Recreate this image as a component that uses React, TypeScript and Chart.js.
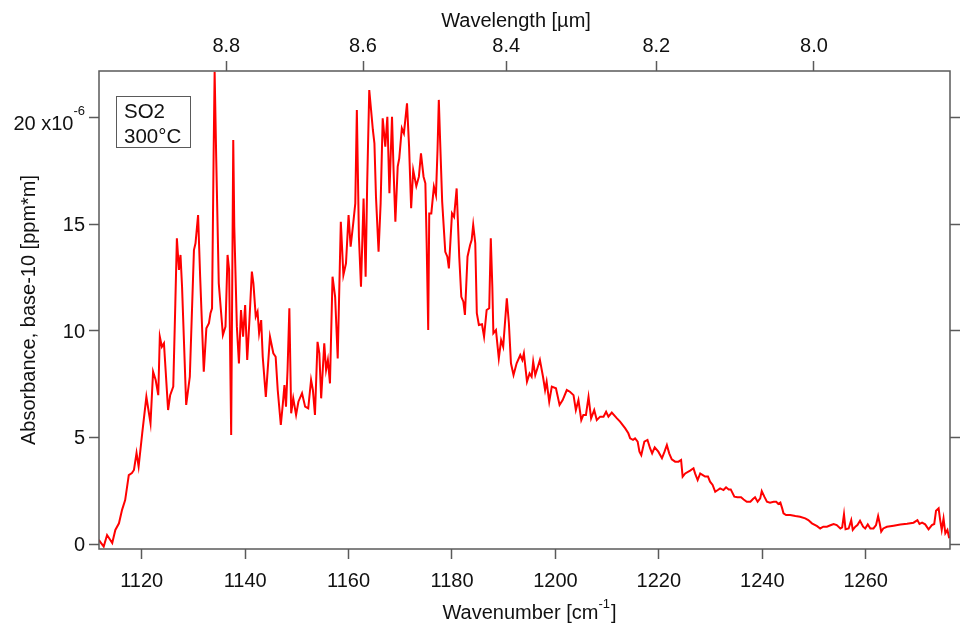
import React, { useEffect, useRef } from 'react';
import { Chart, registerables } from 'chart.js';

Chart.register(...registerables);

const FONT = '"Liberation Sans", Arial, Helvetica, sans-serif';

// Wavenumber [cm^-1]
const wavenumber: number[] = [
  1111.7, 1112.65, 1113.3, 1114.3, 1114.9, 1115.6, 1116.2, 1116.8, 1117.5, 1118.1,
  1118.5, 1119.0, 1119.4, 1120.1, 1120.9, 1121.7, 1122.2, 1122.7, 1123.2, 1123.5,
  1123.9, 1124.3, 1125.1, 1125.5, 1126.1, 1126.5, 1126.8, 1127.2, 1127.5, 1127.8,
  1128.6, 1129.3, 1130.1, 1130.4, 1130.9, 1131.3, 1132.0, 1132.5, 1133.0, 1133.3,
  1133.6, 1133.9, 1134.1, 1134.4, 1134.9, 1135.7, 1136.2, 1136.6, 1136.9, 1137.3,
  1137.7, 1137.9, 1138.4, 1138.8, 1139.2, 1139.6, 1140.0, 1140.4, 1140.8, 1141.3,
  1141.6, 1142.05, 1142.4, 1142.7, 1143.1, 1143.4, 1144.0, 1144.8, 1145.45, 1145.9,
  1146.3, 1146.9, 1147.3, 1147.6, 1147.9, 1148.2, 1148.55, 1148.9, 1149.3, 1149.85,
  1150.3, 1151.0, 1151.6, 1152.2, 1152.75, 1153.1, 1153.5, 1154.0, 1154.35, 1154.7,
  1155.3, 1155.65, 1156.0, 1156.4, 1156.9, 1157.4, 1157.9, 1158.5, 1159.0, 1159.5,
  1160.0, 1160.4, 1160.9, 1161.3, 1161.6, 1162.0, 1162.4, 1162.9, 1163.3, 1163.6,
  1164.0, 1164.35, 1164.7, 1165.0, 1165.3, 1165.8, 1166.2, 1166.6, 1167.1, 1167.5,
  1167.9, 1168.4, 1168.7, 1169.05, 1169.5, 1169.8, 1170.3, 1170.7, 1171.3, 1171.7,
  1172.1, 1172.5, 1173.1, 1173.6, 1174.0, 1174.5, 1174.85, 1175.1, 1175.4, 1175.6,
  1176.0, 1176.5, 1176.9, 1177.2, 1177.45, 1177.7, 1178.1, 1178.7, 1179.1, 1179.4,
  1180.0, 1180.4, 1180.9, 1181.4, 1181.8, 1182.2, 1182.5, 1183.0, 1183.5, 1183.8,
  1184.1, 1184.5, 1184.8, 1185.2, 1185.8, 1186.2, 1186.7, 1187.2, 1187.5, 1187.8,
  1188.0, 1188.5, 1189.05, 1189.5, 1189.9, 1190.6, 1191.0, 1191.4, 1191.9, 1192.5,
  1193.2, 1193.6, 1193.9, 1194.5, 1195.0, 1195.4, 1195.7, 1196.1, 1196.5, 1197.0,
  1197.6, 1198.0, 1198.3, 1198.8, 1199.3, 1200.1, 1200.8, 1201.4, 1202.2, 1202.8,
  1203.5, 1203.95, 1204.45, 1205.0, 1205.4, 1205.9, 1206.4, 1206.9, 1207.5, 1208.0,
  1208.65, 1209.3, 1209.8, 1210.25, 1210.9, 1211.9, 1212.5, 1213.5, 1214.1, 1214.45,
  1215.0, 1215.4, 1215.9, 1216.25, 1216.6, 1217.2, 1217.8, 1218.3, 1218.7, 1219.2,
  1219.9, 1220.6, 1221.1, 1221.55, 1222.0, 1222.5, 1223.15, 1223.8, 1224.3, 1224.6,
  1225.1, 1226.05, 1226.7, 1227.0, 1227.5, 1228.0, 1228.5, 1228.95, 1229.5, 1229.9,
  1230.4, 1230.9, 1231.4, 1231.85, 1232.5, 1233.0, 1233.5, 1233.9, 1234.6, 1235.2,
  1235.9, 1236.4, 1237.0, 1237.7, 1238.2, 1238.6, 1239.1, 1239.6, 1239.9, 1240.4,
  1240.9, 1241.5, 1242.2, 1242.7, 1243.1, 1243.5, 1243.85, 1244.1, 1244.6, 1245.4,
  1246.4, 1247.3, 1248.3, 1248.9, 1249.6, 1250.6, 1251.2, 1251.8, 1252.5, 1253.3,
  1253.8, 1254.4, 1255.1, 1255.45, 1255.8, 1256.1, 1256.7, 1257.2, 1257.5, 1258.0,
  1258.4, 1258.9, 1259.5, 1259.9, 1260.4, 1260.9, 1261.5, 1262.0, 1262.4, 1262.7,
  1263.0, 1263.4, 1264.1, 1265.4, 1266.7, 1268.0, 1269.25, 1270.0, 1270.4, 1270.9,
  1271.5, 1272.15, 1272.8, 1273.25, 1273.6, 1274.1, 1274.4, 1274.7, 1275.05, 1275.4,
  1275.8, 1276.15,
];

// Absorbance, base-10 [ppm*m], in units of 1e-6
const absorbance: number[] = [
  0.19, -0.12, 0.42, 0.05, 0.66, 0.97, 1.6, 2.06, 3.23, 3.33,
  3.47, 4.27, 3.63, 5.2, 6.9, 5.66, 8.08, 7.69, 6.98, 9.72,
  9.25, 9.41, 6.28, 6.98, 7.38, 11.28, 14.33, 12.85, 13.55, 12.06,
  6.52, 7.84, 13.78, 14.1, 15.42, 12.53, 8.08, 10.11, 10.35, 10.82,
  11.05, 18.16, 22.14, 18.16, 12.22, 9.8, 10.19, 13.55, 12.85, 5.11,
  18.94, 14.88, 10.19, 8.47, 10.97, 9.72, 11.2, 8.63, 10.35, 12.77,
  12.22, 10.66, 10.89, 9.88, 10.5, 8.78, 6.9, 9.72, 8.94, 8.78,
  7.22, 5.58, 6.6, 7.45, 6.44, 8.16, 11.05, 6.13, 6.83, 6.05,
  6.67, 7.07, 6.44, 6.36, 7.69, 7.22, 6.05, 9.48, 8.94, 6.83,
  9.41, 8.16, 8.63, 7.53, 12.53, 11.59, 8.7, 15.11, 12.61, 13.16,
  15.42, 13.94, 15.03, 15.97, 20.35, 14.41, 12.06, 16.2, 12.53, 16.91,
  21.28, 20.35, 19.41, 18.78, 16.28, 13.7, 15.97, 19.96, 18.63, 20.03,
  16.44, 20.03, 17.53, 15.11, 17.69, 18.08, 19.49, 19.25, 20.66, 18.63,
  15.74, 17.53, 16.78, 17.22, 18.31, 17.22, 16.91, 14.1, 10.03, 15.5,
  15.5, 16.75, 16.36, 18.47, 20.82, 18.94, 16.05, 13.7, 13.47, 12.92,
  15.5, 15.34, 16.67, 13.47, 11.59, 11.36, 10.74, 13.47, 14.02, 14.25,
  14.96, 14.1, 10.82, 10.27, 10.3, 9.72, 10.97, 11.05, 14.33, 12.06,
  9.88, 10.03, 8.7, 9.56, 9.25, 11.52, 10.35, 8.47, 7.92, 8.47,
  8.86, 8.63, 8.94, 7.61, 8.0, 7.84, 8.55, 7.92, 8.23, 8.63,
  7.84, 7.22, 7.61, 6.67, 7.38, 7.3, 6.52, 6.75, 7.22, 7.14,
  6.98, 6.28, 6.75, 5.81, 6.05, 6.05, 6.9, 5.89, 6.28, 5.81,
  5.97, 5.97, 6.2, 5.97, 6.16, 5.89, 5.74, 5.42, 5.19, 4.95,
  4.88, 4.95, 4.8, 4.33, 4.17, 4.8, 4.88, 4.49, 4.25, 4.53,
  4.33, 4.02, 4.33, 4.64, 4.25, 3.97, 3.86, 3.86, 3.94, 3.16,
  3.31, 3.44, 3.55, 3.31, 3.0, 3.31, 3.23, 3.16, 3.16, 2.92,
  2.77, 2.45, 2.53, 2.61, 2.53, 2.66, 2.56, 2.56, 2.22, 2.19,
  2.19, 2.09, 1.98, 1.98, 2.11, 2.19, 1.98, 2.14, 2.48, 2.22,
  1.98, 1.94, 1.98, 1.98, 1.88, 1.94, 1.67, 1.44, 1.36, 1.36,
  1.31, 1.28, 1.2, 1.12, 0.97, 0.84, 0.73, 0.81, 0.81, 0.89,
  0.94, 0.89, 0.73, 0.78, 1.39, 0.69, 0.73, 1.12, 0.66, 0.81,
  0.89, 1.09, 0.81, 0.73, 0.92, 0.73, 0.73, 0.89, 1.31, 0.97,
  0.58, 0.73, 0.81, 0.86, 0.91, 0.95, 1.0, 1.12, 0.94, 1.0,
  0.92, 0.69, 0.89, 0.94, 1.56, 1.67, 1.12, 0.66, 1.2, 0.5,
  0.66, 0.27,
];

const wavenumberTicks: number[] = [1120, 1140, 1160, 1180, 1200, 1220, 1240, 1260];
const wavelengthTicks: number[] = [8.8, 8.6, 8.4, 8.2, 8.0];
const absorbanceTicks: number[] = [0, 5, 10, 15, 20];

const X_MIN = 1111.74;
const X_MAX = 1276.3;
const Y_MIN = -0.234;
const Y_MAX = 22.175;

const AXIS_COLOR = '#5a5a5a';
const TEXT_COLOR = '#111111';

const gridOpts = {
  display: true,
  drawOnChartArea: false,
  drawTicks: true,
  tickLength: 10,
  tickColor: AXIS_COLOR,
  tickWidth: 1.5,
};

const overlay = {
  id: 'overlay',
  afterDraw(chart: any) {
    const ctx: CanvasRenderingContext2D = chart.ctx;
    const { left, right, top, bottom } = chart.chartArea;
    const sx = chart.scales.x;
    const sy = chart.scales.y;
    ctx.save();

    // frame
    ctx.strokeStyle = AXIS_COLOR;
    ctx.lineWidth = 1.5;
    ctx.strokeRect(left, top, right - left, bottom - top);

    ctx.fillStyle = TEXT_COLOR;
    const big = `20px ${FONT}`;
    const small = `13px ${FONT}`;

    // bottom tick labels
    ctx.font = big;
    ctx.textAlign = 'center';
    ctx.textBaseline = 'alphabetic';
    wavenumberTicks.forEach((v) => {
      ctx.fillText(String(v), sx.getPixelForValue(v), 587);
    });

    // top tick labels (wavelength in µm)
    wavelengthTicks.forEach((l) => {
      ctx.fillText(l.toFixed(1), sx.getPixelForValue(10000 / l), 52);
    });

    // left tick labels
    const labelRight = 85;
    absorbanceTicks.forEach((v) => {
      const py = sy.getPixelForValue(v);
      if (v === 20) {
        ctx.font = small;
        const supW = ctx.measureText('-6').width;
        ctx.textAlign = 'left';
        ctx.fillText('-6', labelRight - supW, py - 2);
        ctx.font = big;
        ctx.textAlign = 'right';
        ctx.fillText('20 x10', labelRight - supW, py + 12.5);
      } else {
        ctx.font = big;
        ctx.textAlign = 'right';
        ctx.fillText(String(v), labelRight, py + 7);
      }
    });

    // bottom title with superscript
    ctx.font = big;
    const t1 = 'Wavenumber [cm';
    const t3 = ']';
    const w1 = ctx.measureText(t1).width;
    const w3 = ctx.measureText(t3).width;
    ctx.font = small;
    const t2 = '-1';
    const w2 = ctx.measureText(t2).width;
    const total = w1 + w2 + 1 + w3;
    let x0 = 529.5 - total / 2;
    ctx.textAlign = 'left';
    ctx.font = big;
    ctx.fillText(t1, x0, 619);
    ctx.font = small;
    ctx.fillText(t2, x0 + w1, 608);
    ctx.font = big;
    ctx.fillText(t3, x0 + w1 + w2 + 1, 619);

    // top title
    ctx.textAlign = 'center';
    ctx.fillText('Wavelength [µm]', 516, 27);

    // left title (rotated)
    ctx.save();
    ctx.translate(35, (top + bottom) / 2);
    ctx.rotate(-Math.PI / 2);
    ctx.textAlign = 'center';
    ctx.fillText('Absorbance, base-10 [ppm*m]', 0, 0);
    ctx.restore();

    // annotation box
    ctx.strokeStyle = AXIS_COLOR;
    ctx.lineWidth = 1;
    ctx.strokeRect(116.5, 96.5, 74, 51);
    ctx.font = `20.5px ${FONT}`;
    ctx.textAlign = 'left';
    ctx.fillText('SO2', 124, 118);
    ctx.fillText('300°C', 124, 143);

    ctx.restore();
  },
};

export default function App() {
  const ref = useRef<HTMLCanvasElement>(null);

  useEffect(() => {
    if (!ref.current) return;
    const points = wavenumber.map((x, i) => ({ x, y: absorbance[i] }));
    const chart = new Chart(ref.current, {
      type: 'line',
      data: {
        datasets: [
          {
            data: points,
            borderColor: '#ff0000',
            borderWidth: 2,
            pointRadius: 0,
            tension: 0,
            fill: false,
          },
        ],
      },
      options: {
        animation: false,
        responsive: true,
        maintainAspectRatio: false,
        events: [],
        layout: { padding: 0 },
        plugins: {
          legend: { display: false },
          tooltip: { enabled: false },
          title: { display: false },
        },
        scales: {
          x: {
            type: 'linear',
            position: 'bottom',
            min: X_MIN,
            max: X_MAX,
            afterBuildTicks: (s: any) => {
              s.ticks = wavenumberTicks.map((v) => ({ value: v }));
            },
            afterFit: (s: any) => {
              s.height = 78;
            },
            ticks: { display: false },
            grid: gridOpts,
            border: { display: false },
          },
          x2: {
            type: 'linear',
            position: 'top',
            min: X_MIN,
            max: X_MAX,
            afterBuildTicks: (s: any) => {
              s.ticks = wavelengthTicks.map((l) => ({ value: 10000 / l }));
            },
            afterFit: (s: any) => {
              s.height = 71;
            },
            ticks: { display: false },
            grid: gridOpts,
            border: { display: false },
          },
          y: {
            type: 'linear',
            position: 'left',
            min: Y_MIN,
            max: Y_MAX,
            afterBuildTicks: (s: any) => {
              s.ticks = absorbanceTicks.map((v) => ({ value: v }));
            },
            afterFit: (s: any) => {
              s.width = 99;
            },
            ticks: { display: false },
            grid: gridOpts,
            border: { display: false },
          },
          y2: {
            type: 'linear',
            position: 'right',
            min: Y_MIN,
            max: Y_MAX,
            afterBuildTicks: (s: any) => {
              s.ticks = absorbanceTicks.map((v) => ({ value: v }));
            },
            afterFit: (s: any) => {
              s.width = 12;
            },
            ticks: { display: false },
            grid: gridOpts,
            border: { display: false },
          },
        },
      } as any,
      plugins: [overlay],
    });
    return () => chart.destroy();
  }, []);

  return (
    <div style={{ position: 'absolute', left: 0, top: 0, width: 962, height: 627 }}>
      <canvas ref={ref} />
    </div>
  );
}
